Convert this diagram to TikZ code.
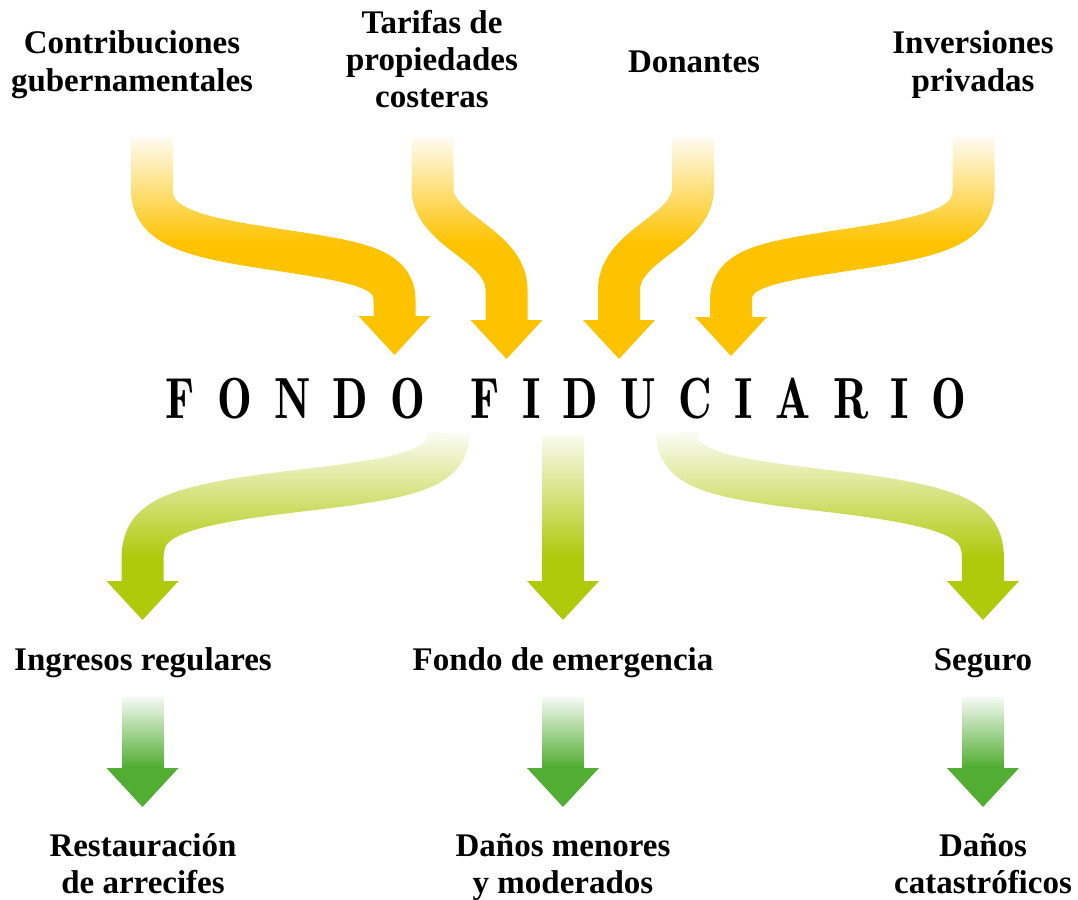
\documentclass[tikz,border=0pt]{standalone}
\usepackage{fontspec}
\usepackage{graphicx}
\setmainfont{Liberation Serif}
\usetikzlibrary{fadings}
\definecolor{ygold}{HTML}{FDC300}
\definecolor{ylime}{HTML}{AFCA0B}
\definecolor{ygreen}{HTML}{52AE32}
\tikzfading[name=fadeup, top color=transparent!4, bottom color=transparent!100]
\newcommand\titlefont{\fontfamily{lmr}\bfseries}
\newcommand\tg{\hspace{28pt}}
\newcommand\ahead[2]{\fill[#2] (#1) ++(-36,0) -- ++(72,0) -- ++(-36,39) -- cycle;}
\begin{document}
\begin{tikzpicture}[x=1pt,y=-1pt,
  lab/.style={anchor=base, align=center, inner sep=0pt, font=\fontsize{33}{37}\selectfont\bfseries},
  shaft/.style={line width=42pt},
  whitefade/.style={white, path fading=fadeup}]
\useasboundingbox (0,0) rectangle (1078,899);

% ---------- labels (base = baseline of last line) ----------
\node[lab] (src1) at (132,91) {Contribuciones\\gubernamentales};
\node[lab] (src2) at (432,107) {Tarifas de\\propiedades\\costeras};
\node[lab] (src3) at (694,73) {Donantes};
\node[lab] (src4) at (973,91) {Inversiones\\privadas};
\node[anchor=base, inner sep=0pt, font=\titlefont\fontsize{58}{58}\selectfont] (fondo) at (566,418)
  {\scalebox{0.8}[1]{F\tg O\tg N\tg D\tg O\hspace{56pt}F\tg I\tg D\tg U\tg C\tg I\tg A\tg R\tg I\tg O}};
\node[lab] (use1) at (143,670) {Ingresos regulares};
\node[lab] (use2) at (563,670) {Fondo de emergencia};
\node[lab] (use3) at (983,670) {Seguro};
\node[lab] (out1) at (143,893) {Restauración\\de arrecifes};
\node[lab] (out2) at (563,893) {Daños menores\\y moderados};
\node[lab] (out3) at (983,893) {Daños\\catastróficos};

% ---------- arrow anchors ----------
\coordinate (a1s) at (152,137);   \coordinate (a1e) at (394.5,316);
\coordinate (a2s) at (432.5,137); \coordinate (a2e) at (506.5,320);
\coordinate (a3s) at (693,137);   \coordinate (a3e) at (619,320);
\coordinate (a4s) at (973.5,137); \coordinate (a4e) at (731,317);
\coordinate (b1s) at (448.5,433); \coordinate (b1e) at (142.5,581);
\coordinate (b2s) at (563,435);   \coordinate (b2e) at (563,581);
\coordinate (b3s) at (677,433);   \coordinate (b3e) at (983,581);
\coordinate (c1s) at (142.5,697); \coordinate (c1e) at (142.5,768);
\coordinate (c2s) at (563,697);   \coordinate (c2e) at (563,768);
\coordinate (c3s) at (983,697);   \coordinate (c3e) at (983,768);

% ---------- yellow inflows ----------
\draw[shaft, ygold] (a1s) -- (152,190) .. controls (152,225) and (190,236) .. (260,247)
  .. controls (350,261) and (394.5,265) .. (394.5,300) -- ([yshift=-1pt]a1e);
\draw[shaft, ygold] (a2s) -- (432.5,188) .. controls (432.5,232) and (506.5,244) .. (506.5,290) -- ([yshift=-1pt]a2e);
\draw[shaft, ygold] (a3s) -- (693,188) .. controls (693,232) and (619,244) .. (619,290) -- ([yshift=-1pt]a3e);
\draw[shaft, ygold] (a4s) -- (973.5,190) .. controls (973.5,225) and (935.5,236) .. (865.5,247)
  .. controls (775.5,261) and (731,265) .. (731,300) -- ([yshift=-1pt]a4e);
\ahead{a1e}{ygold}\ahead{a2e}{ygold}\ahead{a3e}{ygold}\ahead{a4e}{ygold}
\fill[whitefade] (90,136) rectangle (1040,243);

% ---------- lime outflows ----------
\draw[shaft, ylime] (b1s) .. controls (448.5,470) and (405.5,478) .. (305.5,490)
  .. controls (165.5,506) and (142.5,520) .. (142.5,560) -- ([yshift=-1pt]b1e);
\draw[shaft, ylime] (b2s) -- ([yshift=-1pt]b2e);
\draw[shaft, ylime] (b3s) .. controls (677,470) and (720,478) .. (820,490)
  .. controls (960,506) and (983,520) .. (983,560) -- ([yshift=-1pt]b3e);
\ahead{b1e}{ylime}\ahead{b2e}{ylime}\ahead{b3e}{ylime}
\fill[whitefade] (90,432) rectangle (1040,558);

% ---------- green outflows ----------
\draw[shaft, ygreen] (c1s) -- ([yshift=-1pt]c1e);
\draw[shaft, ygreen] (c2s) -- ([yshift=-1pt]c2e);
\draw[shaft, ygreen] (c3s) -- ([yshift=-1pt]c3e);
\ahead{c1e}{ygreen}\ahead{c2e}{ygreen}\ahead{c3e}{ygreen}
\fill[whitefade] (90,696) rectangle (1040,767);
\end{tikzpicture}
\end{document}
